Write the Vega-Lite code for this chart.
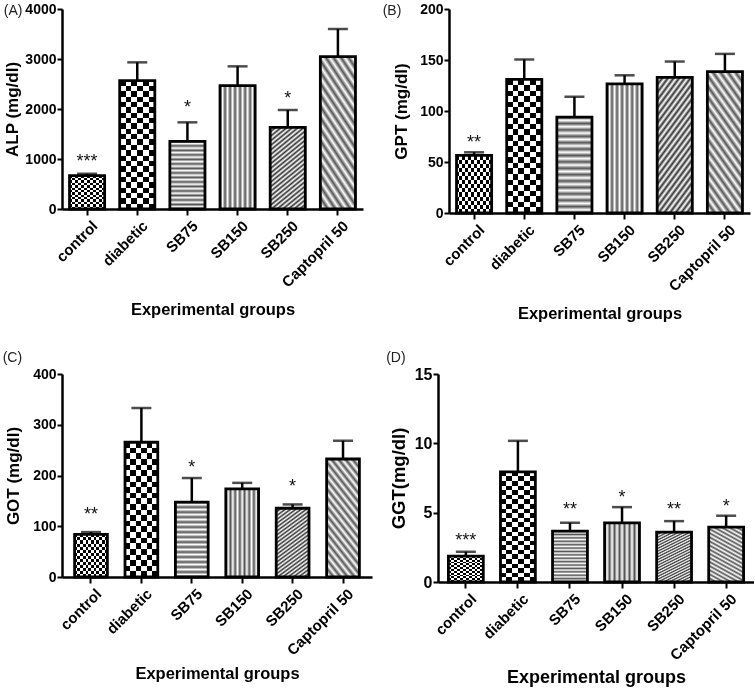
{
  "$schema": "https://vega.github.io/schema/vega-lite/v6.json",
  "padding": {"left": 2, "top": 2, "right": 0, "bottom": 0},
  "background": "white",
  "datasets": {
    "d": [
      {"panel": "A", "group": "control", "mean": 667, "err": 705, "sig": "***", "sig_y": 1047},
      {"panel": "A", "group": "diabetic", "mean": 2567, "err": 2933},
      {"panel": "A", "group": "SB75", "mean": 1353, "err": 1733, "sig": "*", "sig_y": 2120},
      {"panel": "A", "group": "SB150", "mean": 2467, "err": 2853},
      {"panel": "A", "group": "SB250", "mean": 1633, "err": 1980, "sig": "*", "sig_y": 2300},
      {"panel": "A", "group": "Captopril 50", "mean": 3047, "err": 3600},
      {"panel": "B", "group": "control", "mean": 56.4, "err": 59.5, "sig": "**", "sig_y": 73.4},
      {"panel": "B", "group": "diabetic", "mean": 131, "err": 150.5},
      {"panel": "B", "group": "SB75", "mean": 94, "err": 114},
      {"panel": "B", "group": "SB150", "mean": 126.6, "err": 135},
      {"panel": "B", "group": "SB250", "mean": 133, "err": 148.5},
      {"panel": "B", "group": "Captopril 50", "mean": 138.7, "err": 156},
      {"panel": "C", "group": "control", "mean": 84, "err": 88.5, "sig": "**", "sig_y": 133},
      {"panel": "C", "group": "diabetic", "mean": 265.5, "err": 333},
      {"panel": "C", "group": "SB75", "mean": 147.5, "err": 195, "sig": "*", "sig_y": 225},
      {"panel": "C", "group": "SB150", "mean": 173.5, "err": 185.5},
      {"panel": "C", "group": "SB250", "mean": 135.5, "err": 143, "sig": "*", "sig_y": 187},
      {"panel": "C", "group": "Captopril 50", "mean": 232.5, "err": 268.5},
      {"panel": "D", "group": "control", "mean": 1.87, "err": 2.18, "sig": "***", "sig_y": 3.31},
      {"panel": "D", "group": "diabetic", "mean": 7.94, "err": 10.18},
      {"panel": "D", "group": "SB75", "mean": 3.67, "err": 4.27, "sig": "**", "sig_y": 5.52},
      {"panel": "D", "group": "SB150", "mean": 4.27, "err": 5.4, "sig": "*", "sig_y": 6.43},
      {"panel": "D", "group": "SB250", "mean": 3.6, "err": 4.39, "sig": "**", "sig_y": 5.54},
      {"panel": "D", "group": "Captopril 50", "mean": 3.96, "err": 4.78, "sig": "*", "sig_y": 5.76}
    ]
  },
  "data": {"name": "d"},
  "spacing": 28,
  "vconcat": [
    {
      "spacing": 19,
      "hconcat": [
        {
          "width": 301, "height": 200,
          "title": {"text": "(A)", "offset": -16, "dx": 0},
          "transform": [{"filter": "datum.panel === 'A'"}],
          "encoding": {
            "x": {"field": "group", "type": "nominal", "sort": ["control", "diabetic", "SB75", "SB150", "SB250", "Captopril 50"], "scale": {"paddingInner": 0.3, "paddingOuter": 0.15}, "axis": {"title": "Experimental groups", "titlePadding": 12}},
            "y": {"field": "mean", "type": "quantitative", "scale": {"domain": [0, 4000], "nice": false}, "axis": {"title": "ALP (mg/dl)", "values": [0, 1000, 2000, 3000, 4000], "titlePadding": 3}}
          },
          "layer": [
            {"transform": [{"filter": "datum.group === 'control'"}], "mark": {"type": "bar", "style": "g_control"}},
            {"transform": [{"filter": "datum.group === 'diabetic'"}], "mark": {"type": "bar", "style": "g_diabetic"}},
            {"transform": [{"filter": "datum.group === 'SB75'"}], "mark": {"type": "bar", "style": "g_sb75"}},
            {"transform": [{"filter": "datum.group === 'SB150'"}], "mark": {"type": "bar", "style": "g_sb150"}},
            {"transform": [{"filter": "datum.group === 'SB250'"}], "mark": {"type": "bar", "style": "g_sb250"}},
            {"transform": [{"filter": "datum.group === 'Captopril 50'"}], "mark": {"type": "bar", "style": "g_cap"}},
            {"transform": [{"filter": "datum.group === 'control'"}], "mark": {"type": "bar", "style": "g_control_o"}},
            {"transform": [{"filter": "datum.group === 'diabetic'"}], "mark": {"type": "bar", "style": "g_diabetic_o"}},
            {"mark": {"type": "bar", "fillOpacity": 0, "stroke": "#000", "strokeWidth": 2.8}},
            {"mark": {"type": "rule", "strokeWidth": 2.5, "color": "#000"}, "encoding": {"y2": {"field": "err"}}},
            {"mark": {"type": "tick", "thickness": 2.5, "size": 20, "color": "#000"}, "encoding": {"y": {"field": "err", "type": "quantitative"}}},
            {"transform": [{"filter": "isValid(datum.sig_y)"}], "mark": {"type": "text", "fontSize": 18, "dy": 5, "color": "#111", "font": "Liberation Sans"}, "encoding": {"y": {"field": "sig_y", "type": "quantitative"}, "text": {"field": "sig"}}}
          ]
        },
        {
          "width": 301, "height": 204,
          "title": {"text": "(B)", "offset": -16, "dx": -10},
          "transform": [{"filter": "datum.panel === 'B'"}],
          "encoding": {
            "x": {"field": "group", "type": "nominal", "sort": ["control", "diabetic", "SB75", "SB150", "SB250", "Captopril 50"], "scale": {"paddingInner": 0.3, "paddingOuter": 0.15}, "axis": {"title": "Experimental groups", "titlePadding": 12}},
            "y": {"field": "mean", "type": "quantitative", "scale": {"domain": [0, 200], "nice": false}, "axis": {"title": "GPT (mg/dl)", "values": [0, 50, 100, 150, 200], "titlePadding": 9}}
          },
          "layer": [
            {"transform": [{"filter": "datum.group === 'control'"}], "mark": {"type": "bar", "style": "g_control"}},
            {"transform": [{"filter": "datum.group === 'diabetic'"}], "mark": {"type": "bar", "style": "g_diabetic"}},
            {"transform": [{"filter": "datum.group === 'SB75'"}], "mark": {"type": "bar", "style": "g_sb75"}},
            {"transform": [{"filter": "datum.group === 'SB150'"}], "mark": {"type": "bar", "style": "g_sb150"}},
            {"transform": [{"filter": "datum.group === 'SB250'"}], "mark": {"type": "bar", "style": "g_sb250"}},
            {"transform": [{"filter": "datum.group === 'Captopril 50'"}], "mark": {"type": "bar", "style": "g_cap"}},
            {"transform": [{"filter": "datum.group === 'control'"}], "mark": {"type": "bar", "style": "g_control_o"}},
            {"transform": [{"filter": "datum.group === 'diabetic'"}], "mark": {"type": "bar", "style": "g_diabetic_o"}},
            {"mark": {"type": "bar", "fillOpacity": 0, "stroke": "#000", "strokeWidth": 2.8}},
            {"mark": {"type": "rule", "strokeWidth": 2.5, "color": "#000"}, "encoding": {"y2": {"field": "err"}}},
            {"mark": {"type": "tick", "thickness": 2.5, "size": 20, "color": "#000"}, "encoding": {"y": {"field": "err", "type": "quantitative"}}},
            {"transform": [{"filter": "isValid(datum.sig_y)"}], "mark": {"type": "text", "fontSize": 18, "dy": 5, "color": "#111", "font": "Liberation Sans"}, "encoding": {"y": {"field": "sig_y", "type": "quantitative"}, "text": {"field": "sig"}}}
          ]
        }
      ]
    },
    {
      "spacing": 14,
      "hconcat": [
        {
          "width": 310, "height": 203,
          "title": {"text": "(C)", "offset": 2, "dx": -2},
          "transform": [{"filter": "datum.panel === 'C'"}],
          "encoding": {
            "x": {"field": "group", "type": "nominal", "sort": ["control", "diabetic", "SB75", "SB150", "SB250", "Captopril 50"], "scale": {"paddingInner": 0.35, "paddingOuter": 0.25}, "axis": {"title": "Experimental groups", "titlePadding": 8}},
            "y": {"field": "mean", "type": "quantitative", "scale": {"domain": [0, 400], "nice": false}, "axis": {"title": "GOT (mg/dl)", "values": [0, 100, 200, 300, 400], "titlePadding": 10}}
          },
          "layer": [
            {"transform": [{"filter": "datum.group === 'control'"}], "mark": {"type": "bar", "style": "g_control"}},
            {"transform": [{"filter": "datum.group === 'diabetic'"}], "mark": {"type": "bar", "style": "g_diabetic"}},
            {"transform": [{"filter": "datum.group === 'SB75'"}], "mark": {"type": "bar", "style": "g_sb75"}},
            {"transform": [{"filter": "datum.group === 'SB150'"}], "mark": {"type": "bar", "style": "g_sb150"}},
            {"transform": [{"filter": "datum.group === 'SB250'"}], "mark": {"type": "bar", "style": "g_sb250"}},
            {"transform": [{"filter": "datum.group === 'Captopril 50'"}], "mark": {"type": "bar", "style": "g_cap"}},
            {"transform": [{"filter": "datum.group === 'control'"}], "mark": {"type": "bar", "style": "g_control_o"}},
            {"transform": [{"filter": "datum.group === 'diabetic'"}], "mark": {"type": "bar", "style": "g_diabetic_o"}},
            {"mark": {"type": "bar", "fillOpacity": 0, "stroke": "#000", "strokeWidth": 2.8}},
            {"mark": {"type": "rule", "strokeWidth": 2.5, "color": "#000"}, "encoding": {"y2": {"field": "err"}}},
            {"mark": {"type": "tick", "thickness": 2.5, "size": 20, "color": "#000"}, "encoding": {"y": {"field": "err", "type": "quantitative"}}},
            {"transform": [{"filter": "isValid(datum.sig_y)"}], "mark": {"type": "text", "fontSize": 18, "dy": 5, "color": "#111", "font": "Liberation Sans"}, "encoding": {"y": {"field": "sig_y", "type": "quantitative"}, "text": {"field": "sig"}}}
          ]
        },
        {
          "width": 316, "height": 208,
          "title": {"text": "(D)", "offset": 1, "dx": -3},
          "transform": [{"filter": "datum.panel === 'D'"}],
          "encoding": {
            "x": {"field": "group", "type": "nominal", "sort": ["control", "diabetic", "SB75", "SB150", "SB250", "Captopril 50"], "scale": {"paddingInner": 0.33, "paddingOuter": 0.2}, "axis": {"title": "Experimental groups", "titlePadding": 6, "titleFontSize": 18}},
            "y": {"field": "mean", "type": "quantitative", "scale": {"domain": [0, 15], "nice": false}, "axis": {"title": "GGT(mg/dl)", "values": [0, 5, 10, 15], "labelFontSize": 16, "titleFontSize": 18.5}}
          },
          "layer": [
            {"transform": [{"filter": "datum.group === 'control'"}], "mark": {"type": "bar", "style": "g_control"}},
            {"transform": [{"filter": "datum.group === 'diabetic'"}], "mark": {"type": "bar", "style": "g_diabetic"}},
            {"transform": [{"filter": "datum.group === 'SB75'"}], "mark": {"type": "bar", "style": "g_sb75"}},
            {"transform": [{"filter": "datum.group === 'SB150'"}], "mark": {"type": "bar", "style": "g_sb150"}},
            {"transform": [{"filter": "datum.group === 'SB250'"}], "mark": {"type": "bar", "style": "g_sb250"}},
            {"transform": [{"filter": "datum.group === 'Captopril 50'"}], "mark": {"type": "bar", "style": "g_cap"}},
            {"transform": [{"filter": "datum.group === 'control'"}], "mark": {"type": "bar", "style": "g_control_o"}},
            {"transform": [{"filter": "datum.group === 'diabetic'"}], "mark": {"type": "bar", "style": "g_diabetic_o"}},
            {"mark": {"type": "bar", "fillOpacity": 0, "stroke": "#000", "strokeWidth": 2.8}},
            {"mark": {"type": "rule", "strokeWidth": 2.5, "color": "#000"}, "encoding": {"y2": {"field": "err"}}},
            {"mark": {"type": "tick", "thickness": 2.5, "size": 20, "color": "#000"}, "encoding": {"y": {"field": "err", "type": "quantitative"}}},
            {"transform": [{"filter": "isValid(datum.sig_y)"}], "mark": {"type": "text", "fontSize": 18, "dy": 5, "color": "#111", "font": "Liberation Sans"}, "encoding": {"y": {"field": "sig_y", "type": "quantitative"}, "text": {"field": "sig"}}}
          ]
        }
      ]
    }
  ],
  "config": {
    "view": {"stroke": null},
    "font": "Liberation Sans",
    "title": {"font": "Liberation Sans", "fontWeight": "normal", "fontSize": 14, "anchor": "start", "frame": "bounds", "color": "#222"},
    "axis": {"grid": false, "domainColor": "#000", "domainWidth": 2.5, "tickColor": "#000", "tickWidth": 2, "tickSize": 5, "labelFont": "Liberation Sans", "labelFontWeight": "bold", "labelColor": "#000", "titleFont": "Liberation Sans", "titleFontWeight": "bold", "titleColor": "#000"},
    "axisX": {"labelAngle": -45, "labelAlign": "right", "labelBaseline": "top", "labelFontSize": 15, "titleFontSize": 16.5, "tickSize": 6, "labelPadding": 3, "labelOffset": 3},
    "axisY": {"labelFontSize": 14, "titleFontSize": 17, "labelPadding": 1, "titlePadding": 6, "format": "d"},
    "style": {
      "g_control": {"color": {"gradient": "linear", "x1": 0, "y1": 0, "x2": 1, "y2": 0, "stops": [
        {"offset": 0, "color": "#000"}, {"offset": 0.0833, "color": "#000"}, {"offset": 0.0833, "color": "#fff"}, {"offset": 0.1667, "color": "#fff"},
        {"offset": 0.1667, "color": "#000"}, {"offset": 0.25, "color": "#000"}, {"offset": 0.25, "color": "#fff"}, {"offset": 0.3333, "color": "#fff"},
        {"offset": 0.3333, "color": "#000"}, {"offset": 0.4167, "color": "#000"}, {"offset": 0.4167, "color": "#fff"}, {"offset": 0.5, "color": "#fff"},
        {"offset": 0.5, "color": "#000"}, {"offset": 0.5833, "color": "#000"}, {"offset": 0.5833, "color": "#fff"}, {"offset": 0.6667, "color": "#fff"},
        {"offset": 0.6667, "color": "#000"}, {"offset": 0.75, "color": "#000"}, {"offset": 0.75, "color": "#fff"}, {"offset": 0.8333, "color": "#fff"},
        {"offset": 0.8333, "color": "#000"}, {"offset": 0.9167, "color": "#000"}, {"offset": 0.9167, "color": "#fff"}, {"offset": 1, "color": "#fff"}]}, "strokeWidth": 0},
      "g_control_o": {"blend": "difference", "strokeWidth": 0, "color": {"gradient": "linear", "x1": 0, "y1": 0, "x2": 0, "y2": 1, "stops": [
        {"offset": 0, "color": "#000"}, {"offset": 0.0714, "color": "#000"}, {"offset": 0.0714, "color": "#fff"}, {"offset": 0.1429, "color": "#fff"},
        {"offset": 0.1429, "color": "#000"}, {"offset": 0.2143, "color": "#000"}, {"offset": 0.2143, "color": "#fff"}, {"offset": 0.2857, "color": "#fff"},
        {"offset": 0.2857, "color": "#000"}, {"offset": 0.3571, "color": "#000"}, {"offset": 0.3571, "color": "#fff"}, {"offset": 0.4286, "color": "#fff"},
        {"offset": 0.4286, "color": "#000"}, {"offset": 0.5, "color": "#000"}, {"offset": 0.5, "color": "#fff"}, {"offset": 0.5714, "color": "#fff"},
        {"offset": 0.5714, "color": "#000"}, {"offset": 0.6429, "color": "#000"}, {"offset": 0.6429, "color": "#fff"}, {"offset": 0.7143, "color": "#fff"},
        {"offset": 0.7143, "color": "#000"}, {"offset": 0.7857, "color": "#000"}, {"offset": 0.7857, "color": "#fff"}, {"offset": 0.8571, "color": "#fff"},
        {"offset": 0.8571, "color": "#000"}, {"offset": 0.9286, "color": "#000"}, {"offset": 0.9286, "color": "#fff"}, {"offset": 1, "color": "#fff"}]}},
      "g_diabetic": {"strokeWidth": 0, "color": {"gradient": "linear", "x1": 0, "y1": 0, "x2": 1, "y2": 0, "stops": [
        {"offset": 0, "color": "#000"}, {"offset": 0.1667, "color": "#000"}, {"offset": 0.1667, "color": "#fff"}, {"offset": 0.3333, "color": "#fff"},
        {"offset": 0.3333, "color": "#000"}, {"offset": 0.5, "color": "#000"}, {"offset": 0.5, "color": "#fff"}, {"offset": 0.6667, "color": "#fff"},
        {"offset": 0.6667, "color": "#000"}, {"offset": 0.8333, "color": "#000"}, {"offset": 0.8333, "color": "#fff"}, {"offset": 1, "color": "#fff"}]}},
      "g_diabetic_o": {"blend": "difference", "strokeWidth": 0, "color": {"gradient": "linear", "x1": 0, "y1": 0, "x2": 0, "y2": 1, "stops": [
        {"offset": 0, "color": "#000"}, {"offset": 0.0417, "color": "#000"}, {"offset": 0.0417, "color": "#fff"}, {"offset": 0.0833, "color": "#fff"},
        {"offset": 0.0833, "color": "#000"}, {"offset": 0.125, "color": "#000"}, {"offset": 0.125, "color": "#fff"}, {"offset": 0.1667, "color": "#fff"},
        {"offset": 0.1667, "color": "#000"}, {"offset": 0.2083, "color": "#000"}, {"offset": 0.2083, "color": "#fff"}, {"offset": 0.25, "color": "#fff"},
        {"offset": 0.25, "color": "#000"}, {"offset": 0.2917, "color": "#000"}, {"offset": 0.2917, "color": "#fff"}, {"offset": 0.3333, "color": "#fff"},
        {"offset": 0.3333, "color": "#000"}, {"offset": 0.375, "color": "#000"}, {"offset": 0.375, "color": "#fff"}, {"offset": 0.4167, "color": "#fff"},
        {"offset": 0.4167, "color": "#000"}, {"offset": 0.4583, "color": "#000"}, {"offset": 0.4583, "color": "#fff"}, {"offset": 0.5, "color": "#fff"},
        {"offset": 0.5, "color": "#000"}, {"offset": 0.5417, "color": "#000"}, {"offset": 0.5417, "color": "#fff"}, {"offset": 0.5833, "color": "#fff"},
        {"offset": 0.5833, "color": "#000"}, {"offset": 0.625, "color": "#000"}, {"offset": 0.625, "color": "#fff"}, {"offset": 0.6667, "color": "#fff"},
        {"offset": 0.6667, "color": "#000"}, {"offset": 0.7083, "color": "#000"}, {"offset": 0.7083, "color": "#fff"}, {"offset": 0.75, "color": "#fff"},
        {"offset": 0.75, "color": "#000"}, {"offset": 0.7917, "color": "#000"}, {"offset": 0.7917, "color": "#fff"}, {"offset": 0.8333, "color": "#fff"},
        {"offset": 0.8333, "color": "#000"}, {"offset": 0.875, "color": "#000"}, {"offset": 0.875, "color": "#fff"}, {"offset": 0.9167, "color": "#fff"},
        {"offset": 0.9167, "color": "#000"}, {"offset": 0.9583, "color": "#000"}, {"offset": 0.9583, "color": "#fff"}, {"offset": 1, "color": "#fff"}]}},
      "g_sb75": {"strokeWidth": 0, "color": {"gradient": "linear", "x1": 0, "y1": 0, "x2": 0, "y2": 1, "stops": [
        {"offset": 0, "color": "#555"}, {"offset": 0.0333, "color": "#fff"}, {"offset": 0.0667, "color": "#555"}, {"offset": 0.1, "color": "#fff"},
        {"offset": 0.1333, "color": "#555"}, {"offset": 0.1667, "color": "#fff"}, {"offset": 0.2, "color": "#555"}, {"offset": 0.2333, "color": "#fff"},
        {"offset": 0.2667, "color": "#555"}, {"offset": 0.3, "color": "#fff"}, {"offset": 0.3333, "color": "#555"}, {"offset": 0.3667, "color": "#fff"},
        {"offset": 0.4, "color": "#555"}, {"offset": 0.4333, "color": "#fff"}, {"offset": 0.4667, "color": "#555"}, {"offset": 0.5, "color": "#fff"},
        {"offset": 0.5333, "color": "#555"}, {"offset": 0.5667, "color": "#fff"}, {"offset": 0.6, "color": "#555"}, {"offset": 0.6333, "color": "#fff"},
        {"offset": 0.6667, "color": "#555"}, {"offset": 0.7, "color": "#fff"}, {"offset": 0.7333, "color": "#555"}, {"offset": 0.7667, "color": "#fff"},
        {"offset": 0.8, "color": "#555"}, {"offset": 0.8333, "color": "#fff"}, {"offset": 0.8667, "color": "#555"}, {"offset": 0.9, "color": "#fff"},
        {"offset": 0.9333, "color": "#555"}, {"offset": 0.9667, "color": "#fff"}, {"offset": 1, "color": "#555"}]}},
      "g_sb150": {"strokeWidth": 0, "color": {"gradient": "linear", "x1": 0, "y1": 0, "x2": 1, "y2": 0, "stops": [
        {"offset": 0, "color": "#555"}, {"offset": 0.0714, "color": "#fff"}, {"offset": 0.1429, "color": "#555"}, {"offset": 0.2143, "color": "#fff"},
        {"offset": 0.2857, "color": "#555"}, {"offset": 0.3571, "color": "#fff"}, {"offset": 0.4286, "color": "#555"}, {"offset": 0.5, "color": "#fff"},
        {"offset": 0.5714, "color": "#555"}, {"offset": 0.6429, "color": "#fff"}, {"offset": 0.7143, "color": "#555"}, {"offset": 0.7857, "color": "#fff"},
        {"offset": 0.8571, "color": "#555"}, {"offset": 0.9286, "color": "#fff"}, {"offset": 1, "color": "#555"}]}},
      "g_sb250": {"strokeWidth": 0, "color": {"gradient": "linear", "x1": 0, "y1": 0, "x2": 0.421, "y2": 1.203, "stops": [
        {"offset": 0, "color": "#333"}, {"offset": 0.0208, "color": "#fff"}, {"offset": 0.0417, "color": "#333"}, {"offset": 0.0625, "color": "#fff"},
        {"offset": 0.0833, "color": "#333"}, {"offset": 0.1042, "color": "#fff"}, {"offset": 0.125, "color": "#333"}, {"offset": 0.1458, "color": "#fff"},
        {"offset": 0.1667, "color": "#333"}, {"offset": 0.1875, "color": "#fff"}, {"offset": 0.2083, "color": "#333"}, {"offset": 0.2292, "color": "#fff"},
        {"offset": 0.25, "color": "#333"}, {"offset": 0.2708, "color": "#fff"}, {"offset": 0.2917, "color": "#333"}, {"offset": 0.3125, "color": "#fff"},
        {"offset": 0.3333, "color": "#333"}, {"offset": 0.3542, "color": "#fff"}, {"offset": 0.375, "color": "#333"}, {"offset": 0.3958, "color": "#fff"},
        {"offset": 0.4167, "color": "#333"}, {"offset": 0.4375, "color": "#fff"}, {"offset": 0.4583, "color": "#333"}, {"offset": 0.4792, "color": "#fff"},
        {"offset": 0.5, "color": "#333"}, {"offset": 0.5208, "color": "#fff"}, {"offset": 0.5417, "color": "#333"}, {"offset": 0.5625, "color": "#fff"},
        {"offset": 0.5833, "color": "#333"}, {"offset": 0.6042, "color": "#fff"}, {"offset": 0.625, "color": "#333"}, {"offset": 0.6458, "color": "#fff"},
        {"offset": 0.6667, "color": "#333"}, {"offset": 0.6875, "color": "#fff"}, {"offset": 0.7083, "color": "#333"}, {"offset": 0.7292, "color": "#fff"},
        {"offset": 0.75, "color": "#333"}, {"offset": 0.7708, "color": "#fff"}, {"offset": 0.7917, "color": "#333"}, {"offset": 0.8125, "color": "#fff"},
        {"offset": 0.8333, "color": "#333"}, {"offset": 0.8542, "color": "#fff"}, {"offset": 0.875, "color": "#333"}, {"offset": 0.8958, "color": "#fff"},
        {"offset": 0.9167, "color": "#333"}, {"offset": 0.9375, "color": "#fff"}, {"offset": 0.9583, "color": "#333"}, {"offset": 0.9792, "color": "#fff"},
        {"offset": 1, "color": "#333"}]}},
      "g_cap": {"strokeWidth": 0, "color": {"gradient": "linear", "x1": 1, "y1": 0, "x2": 0.579, "y2": 1.203, "stops": [
        {"offset": 0, "color": "#555"}, {"offset": 0.0278, "color": "#fff"}, {"offset": 0.0556, "color": "#555"}, {"offset": 0.0833, "color": "#fff"},
        {"offset": 0.1111, "color": "#555"}, {"offset": 0.1389, "color": "#fff"}, {"offset": 0.1667, "color": "#555"}, {"offset": 0.1944, "color": "#fff"},
        {"offset": 0.2222, "color": "#555"}, {"offset": 0.25, "color": "#fff"}, {"offset": 0.2778, "color": "#555"}, {"offset": 0.3056, "color": "#fff"},
        {"offset": 0.3333, "color": "#555"}, {"offset": 0.3611, "color": "#fff"}, {"offset": 0.3889, "color": "#555"}, {"offset": 0.4167, "color": "#fff"},
        {"offset": 0.4444, "color": "#555"}, {"offset": 0.4722, "color": "#fff"}, {"offset": 0.5, "color": "#555"}, {"offset": 0.5278, "color": "#fff"},
        {"offset": 0.5556, "color": "#555"}, {"offset": 0.5833, "color": "#fff"}, {"offset": 0.6111, "color": "#555"}, {"offset": 0.6389, "color": "#fff"},
        {"offset": 0.6667, "color": "#555"}, {"offset": 0.6944, "color": "#fff"}, {"offset": 0.7222, "color": "#555"}, {"offset": 0.75, "color": "#fff"},
        {"offset": 0.7778, "color": "#555"}, {"offset": 0.8056, "color": "#fff"}, {"offset": 0.8333, "color": "#555"}, {"offset": 0.8611, "color": "#fff"},
        {"offset": 0.8889, "color": "#555"}, {"offset": 0.9167, "color": "#fff"}, {"offset": 0.9444, "color": "#555"}, {"offset": 0.9722, "color": "#fff"},
        {"offset": 1, "color": "#555"}]}}
    }
  }
}
